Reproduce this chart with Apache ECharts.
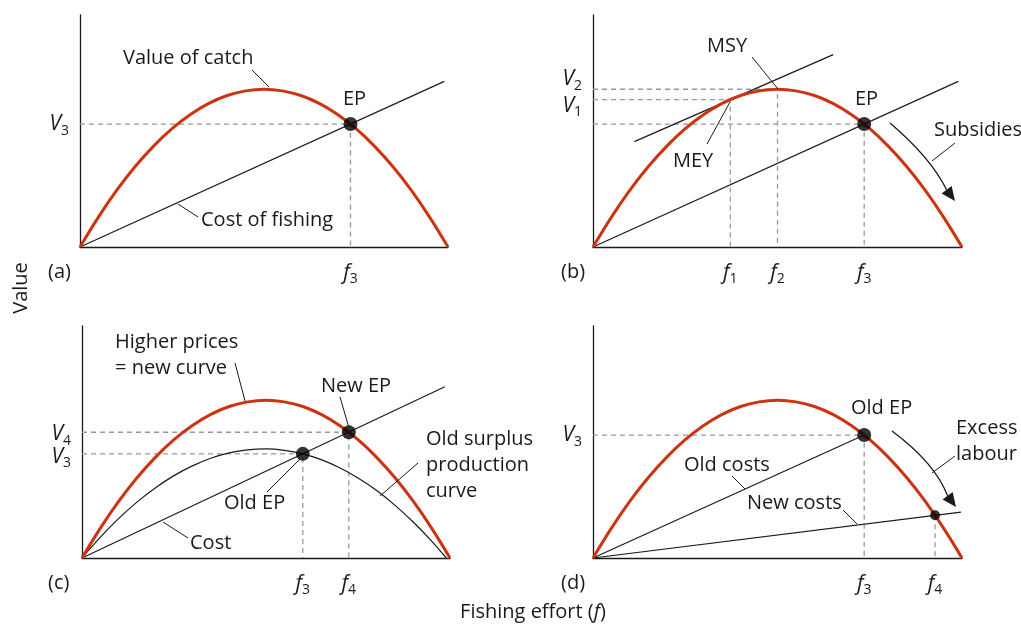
<!DOCTYPE html>
<html>
<head>
<meta charset="utf-8">
<script src="https://cdn.jsdelivr.net/npm/echarts@6/dist/echarts.min.js"></script>
<style>
  html, body { margin: 0; padding: 0; background: #fff; }
  #chart { width: 1021px; height: 624px; }
</style>
</head>
<body>
<div id="chart"></div>
<script>
// fishing effort sample points (0..100) and value (0..100 of axis height)
const effort = [0, 5, 10, 15, 20, 25, 30, 35, 40, 45, 50, 55, 60, 65, 70, 75, 80, 85, 90, 95, 100];
const catchValue = [0, 12.9, 24.5, 34.7, 43.5, 51.0, 57.1, 61.9, 65.3, 67.3, 68.0, 67.3, 65.3, 61.9, 57.1, 51.0, 43.5, 34.7, 24.5, 12.9, 0];
const oldEffort = [0, 5, 10, 15, 20, 25, 30, 35, 40, 45, 50, 55, 60, 65, 70, 75, 80, 85, 90, 95, 99];
const oldSurplus = [0, 9.0, 17.1, 24.2, 30.3, 35.5, 39.7, 43.0, 45.3, 46.6, 47.0, 46.4, 44.9, 42.4, 38.9, 34.5, 29.2, 22.8, 15.5, 7.3, 0];

// panel (a)
const epA = [73.5, 53.0];
const costA = [[0, 0], [99, 71.4]];
// panel (b)
const meyB = [37.2, 63.5];
const msyB = [50, 68.0];
const epB = [73.5, 53.0];
const tangentB = [[11.2, 45.4], [65.1, 82.9]];
const costB = [[0, 0], [99, 71.4]];
// panel (c)
const oldEpC = [60, 44.9];
const newEpC = [72.5, 54.2];
const costC = [[0, 0], [98.6, 73.8]];
// panel (d)
const oldEpD = [73.5, 53.0];
const newEpD = [92.7, 18.4];
const oldCostD = [[0, 0], [73.5, 53.0]];
const newCostD = [[0, 0], [99.7, 19.8]];

// tick label subscripts per panel
const fSubs = [['3'], ['1', '2', '3'], ['3', '4'], ['3', '4']];
const xTicks = [[epA[0]], [meyB[0], msyB[0], epB[0]], [oldEpC[0], newEpC[0]], [oldEpD[0], newEpD[0]]];
// one y axis per V label (close labels on a single axis get hidden); shift = label nudge in px
const vLabels = [
  { grid: 0, value: epA[1], sub: '3', shift: 0 },
  { grid: 1, value: meyB[1], sub: '1', shift: 6 },
  { grid: 1, value: msyB[1], sub: '2', shift: -10 },
  { grid: 2, value: oldEpC[1], sub: '3', shift: 3 },
  { grid: 2, value: newEpC[1], sub: '4', shift: 2 },
  { grid: 3, value: oldEpD[1], sub: '3', shift: 0 },
];

const RED = '#cc3311';
const INK = '#1a1a1a';
const FONT = '"Open Sans", "Noto Sans", sans-serif';
const FS = 20;

const grids = [
  { left: 80, top: 15, width: 368, height: 232 },
  { left: 593, top: 15, width: 369, height: 232 },
  { left: 82, top: 326, width: 368, height: 232 },
  { left: 593, top: 326, width: 369, height: 232 },
];

function tickRich(shift) {
  const down = shift > 0 ? 2 * shift : 0;
  const up = shift < 0 ? -2 * shift : 0;
  return {
    i: { fontStyle: 'italic', fontSize: 21, lineHeight: 14, fontFamily: FONT, color: INK, padding: [down, 0, up, 0] },
    s: { fontSize: 14, lineHeight: 7, fontFamily: FONT, color: INK, padding: [13 + down, 0, up, 0] },
  };
}

function pick(ticks, subs, v) {
  const k = ticks.findIndex((t) => Math.abs(t - v) < 1e-6);
  return k < 0 ? '' : subs[k];
}

function baseAxis(i, showLine) {
  return {
    type: 'value',
    gridIndex: i,
    min: 0,
    max: 100,
    axisLine: { show: showLine, onZero: false, lineStyle: { color: INK, width: 1.3 } },
    axisTick: { show: false },
    splitLine: { show: false },
  };
}

const xAxes = grids.map((g, i) => ({
  ...baseAxis(i, true),
  position: 'bottom',
  axisLabel: {
    customValues: xTicks[i],
    margin: 19,
    hideOverlap: false,
    rich: tickRich(0),
    formatter: (v) => `{i|f}{s|${pick(xTicks[i], fSubs[i], v)}}`,
  },
}));

const firstY = grids.map((g, i) => vLabels.findIndex((l) => l.grid === i));
const yAxes = vLabels.map((l, k) => ({
  ...baseAxis(l.grid, firstY[l.grid] === k),
  position: 'left',
  axisLabel: {
    customValues: [l.value],
    margin: 11,
    hideOverlap: false,
    rich: tickRich(l.shift),
    formatter: () => `{i|V}{s|${l.sub}}`,
  },
}));

const zip = (xs, ys) => xs.map((x, k) => [x, ys[k]]);
const ax = (i) => ({ xAxisIndex: i, yAxisIndex: firstY[i] });

function curve(i, xs, ys, color, width) {
  return {
    type: 'line', ...ax(i), data: zip(xs, ys),
    smooth: 0.4, symbol: 'none', z: 4,
    lineStyle: { color, width },
  };
}
function straight(i, pts) {
  return {
    type: 'line', ...ax(i), data: pts,
    symbol: 'none', z: 3, lineStyle: { color: INK, width: 1.2 },
  };
}
function guide(i, p, horizontal = true) {
  const pts = horizontal ? [[0, p[1]], [p[0], p[1]], [p[0], 0]] : [[p[0], p[1]], [p[0], 0]];
  return {
    type: 'line', ...ax(i), data: pts,
    symbol: 'none', z: 2, lineStyle: { color: '#999', width: 1.3, type: [5, 4] },
  };
}
function dots(i, pts, size) {
  return {
    type: 'scatter', ...ax(i), data: pts,
    symbolSize: size, z: 6, itemStyle: { color: '#000' },
  };
}

const series = [
  // (a)
  guide(0, epA),
  straight(0, costA),
  curve(0, effort, catchValue, RED, 3),
  dots(0, [epA], 14),
  // (b)
  guide(1, meyB), guide(1, msyB), guide(1, epB),
  straight(1, tangentB), straight(1, costB),
  curve(1, effort, catchValue, RED, 3),
  dots(1, [epB], 14),
  // (c)
  guide(2, oldEpC), guide(2, newEpC),
  straight(2, costC),
  curve(2, oldEffort, oldSurplus, INK, 1.2),
  curve(2, effort, catchValue, RED, 3),
  dots(2, [oldEpC, newEpC], 14),
  // (d)
  guide(3, oldEpD), guide(3, newEpD, false),
  straight(3, oldCostD), straight(3, newCostD),
  curve(3, effort, catchValue, RED, 3),
  dots(3, [oldEpD], 14), dots(3, [newEpD], 10),
];

// annotations (pixel positions)
const T = (x, y, text, extra) => ({
  type: 'text', x, y, z: 10,
  style: Object.assign({ text, fill: INK, fontSize: FS, fontFamily: FONT, textVerticalAlign: 'middle', verticalAlign: 'middle' }, extra),
});
const L = (x1, y1, x2, y2) => ({
  type: 'line', z: 10, shape: { x1, y1, x2, y2 }, style: { stroke: INK, lineWidth: 1 },
});
function arrow(x1, y1, cx, cy, tx, ty) {
  const d = [0.6, 0.8];
  const bx = tx - 14 * d[0], by = ty - 14 * d[1];
  const px = -d[1] * 6.3, py = d[0] * 6.3;
  return [
    { type: 'bezierCurve', z: 10, shape: { x1, y1, cpx1: cx, cpy1: cy, x2: bx, y2: by }, style: { stroke: INK, lineWidth: 1.3, fill: null } },
    { type: 'polygon', z: 10, shape: { points: [[tx, ty], [bx + px, by + py], [bx - px, by - py]] }, style: { fill: INK } },
  ];
}

const graphic = [
  // (a)
  T(123, 58, 'Value of catch'), L(252, 70, 269, 87),
  T(343, 99, 'EP'),
  T(201, 220, 'Cost of fishing'), L(198, 217, 178, 204),
  T(48, 272, '(a)'),
  // (b)
  T(707, 46, 'MSY'), L(752, 57, 778, 89),
  T(673, 161, 'MEY'), L(707, 144, 730, 102),
  T(855, 99, 'EP'),
  T(934, 130, 'Subsidies'), L(955, 143, 932, 161),
  ...arrow(890, 123, 931, 158, 955, 201),
  T(561, 272, '(b)'),
  // (c)
  T(115, 342, 'Higher prices'), T(115, 368, '= new curve'), L(235, 363, 245, 401),
  T(321, 386, 'New EP'), L(340, 397, 349, 428),
  T(426, 439, 'Old surplus'), T(426, 465, 'production'), T(426, 491, 'curve'), L(418, 463, 380, 496),
  T(224, 503, 'Old EP'), L(267, 492, 300, 459),
  T(190, 543, 'Cost'), L(188, 538, 163, 522),
  T(48, 583, '(c)'),
  // (d)
  T(851, 408, 'Old EP'),
  T(956, 428, 'Excess'), T(956, 454, 'labour'), L(955, 456, 932, 473),
  ...arrow(892, 431, 935, 463, 956, 507),
  T(684, 465, 'Old costs'), L(732, 476, 745, 489),
  T(747, 503, 'New costs'), L(843, 510, 857, 524),
  T(561, 583, '(d)'),
  // axis titles
  { type: 'text', x: 21, y: 288, rotation: Math.PI / 2, z: 10,
    style: { text: 'Value', fill: INK, fontSize: FS, fontFamily: FONT, textAlign: 'center', align: 'center', textVerticalAlign: 'middle', verticalAlign: 'middle' } },
  { type: 'text', x: 533, y: 612, z: 10,
    style: {
      text: '{n|Fishing effort (}{i|f}{n|)}', fill: INK, fontSize: FS, fontFamily: FONT,
      textAlign: 'center', align: 'center', textVerticalAlign: 'middle', verticalAlign: 'middle',
      rich: { n: { fontSize: FS, fontFamily: FONT, fill: INK }, i: { fontSize: FS, fontFamily: FONT, fontStyle: 'italic', fill: INK } },
    } },
];

const chart = echarts.init(document.getElementById('chart'), null, { renderer: 'canvas' });
chart.setOption({
  animation: false,
  backgroundColor: '#fff',
  grid: grids,
  xAxis: xAxes,
  yAxis: yAxes,
  series,
  graphic,
});
</script>
</body>
</html>
